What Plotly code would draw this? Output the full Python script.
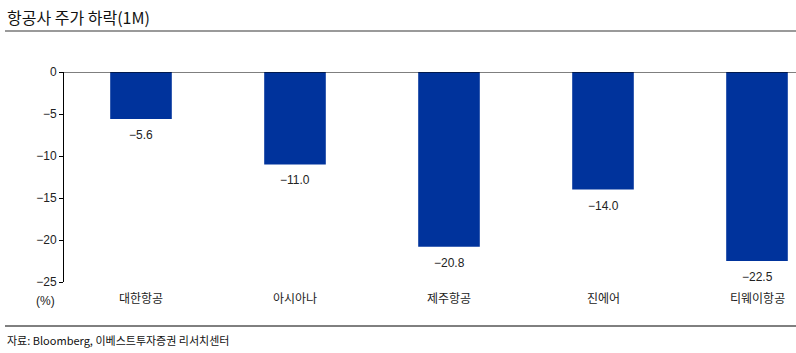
import plotly.graph_objects as go

categories = ["대한항공", "아시아나", "제주항공", "진에어", "티웨이항공"]
values = [-5.6, -11.0, -20.8, -14.0, -22.5]
yticks = [0, -5, -10, -15, -20, -25]
ytick_labels = ["0", "−5", "−10", "−15", "−20", "−25"]
title = "항공사 주가 하락(1M)"
source = "자료: Bloomberg, 이베스트투자증권 리서치센터"

W, H = 796, 353
L, R, T, B = 64, 0, 72, 71

num_font = "Liberation Sans Narrow, Arial Narrow, Liberation Sans, Arial, sans-serif"
kr_font = "Noto Sans CJK KR, Noto Sans, sans-serif"

x_idx = list(range(len(categories)))
fig = go.Figure()
fig.add_trace(go.Bar(x=x_idx, y=values, width=0.4, marker=dict(color="#00339C", line=dict(width=0)),
                     hoverinfo="skip"))

xmax = (W - L - R) / 154 - 0.5
fig.update_layout(
    width=W, height=H, margin=dict(l=L, r=R, t=T, b=B),
    paper_bgcolor="white", plot_bgcolor="white", showlegend=False,
    xaxis=dict(range=[-0.5, xmax], showticklabels=False, showgrid=False, zeroline=False,
               showline=False, ticks=""),
    yaxis=dict(range=[-25, 0], tickvals=yticks, ticktext=ytick_labels, showgrid=False,
               zeroline=False, showline=True, linecolor="black", linewidth=1,
               ticks="outside", ticklen=4, tickcolor="black",
               tickfont=dict(family=num_font, size=12, color="#222")),
)

# zero line across top
fig.add_shape(type="line", xref="paper", yref="y", x0=0, x1=1, y0=0, y1=0,
              line=dict(color="black", width=1))

def px(x):
    return (x - L) / (W - L - R)

def py(y):
    return (H - B - y) / (H - T - B)

# value labels and category labels
for i, v in enumerate(values):
    fig.add_annotation(x=i, y=v, xref="x", yref="y", text=f"{v:.1f}".replace("-", "−"),
                       showarrow=False, yanchor="middle", yshift=-16,
                       font=dict(family=num_font, size=12, color="#222"))
    fig.add_annotation(x=i, y=py(297), xref="x", yref="paper", text=categories[i], showarrow=False,
                       yanchor="middle", font=dict(family=kr_font, size=12, color="#222"))

# (%) label
fig.add_annotation(x=px(45), y=py(301), xref="paper", yref="paper", text="(%)", showarrow=False,
                   xanchor="center", yanchor="middle",
                   font=dict(family=num_font, size=12, color="#222"))

fig.add_annotation(x=px(5), y=py(17), xref="paper", yref="paper", text=title, showarrow=False,
                   xanchor="left", yanchor="middle", font=dict(family=kr_font, size=16, color="#111"))
fig.add_shape(type="line", xref="paper", yref="paper", x0=px(5), x1=px(796), y0=py(31), y1=py(31),
              line=dict(color="#9a9a9a", width=2))
fig.add_shape(type="line", xref="paper", yref="paper", x0=px(5), x1=px(796), y0=py(326), y1=py(326),
              line=dict(color="black", width=1))
fig.add_annotation(x=px(5), y=py(340), xref="paper", yref="paper", text=source, showarrow=False,
                   xanchor="left", yanchor="middle", font=dict(family=kr_font, size=11, color="#111"))

fig.write_html("out.html")
